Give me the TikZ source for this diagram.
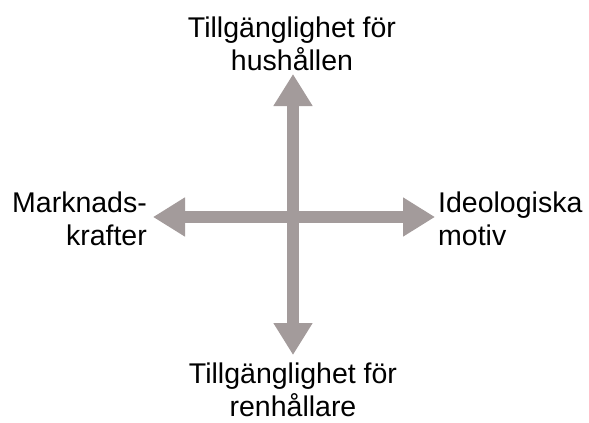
\documentclass[tikz,border=0pt]{standalone}
\usepackage{fontspec}
\setmainfont{Liberation Sans}
\usetikzlibrary{arrows.meta}
\definecolor{arrowgray}{RGB}{163,155,155}
\begin{document}
\begin{tikzpicture}[x=1pt,y=-1pt,
  axisarrow/.style={draw=arrowgray,line width=12pt,
    -{Triangle[length=32pt,width=37pt,fill=arrowgray]}},
  lbl/.style={inner sep=0pt,font=\fontsize{28.5}{33}\selectfont,text=black}]
\useasboundingbox (0,0) rectangle (589,423);
\coordinate (c) at (293,217);
\coordinate (up) at (293,74);
\coordinate (down) at (293,355);
\coordinate (left) at (153,217);
\coordinate (right) at (435,217);
\draw[axisarrow] (c) -- (up);
\draw[axisarrow] (c) -- (down);
\draw[axisarrow] (c) -- (left);
\draw[axisarrow] (c) -- (right);
\node[lbl,align=center,anchor=base] (top) at (292,70) {Tillgänglighet för\\hushållen};
\node[lbl,align=center,anchor=base] (bottom) at (293,416) {Tillgänglighet för\\renhållare};
\node[lbl,align=right,anchor=base east] (west) at (147,245) {Marknads-\\krafter};
\node[lbl,align=left,anchor=base west] (east) at (438,245) {Ideologiska\\motiv};
\end{tikzpicture}
\end{document}
